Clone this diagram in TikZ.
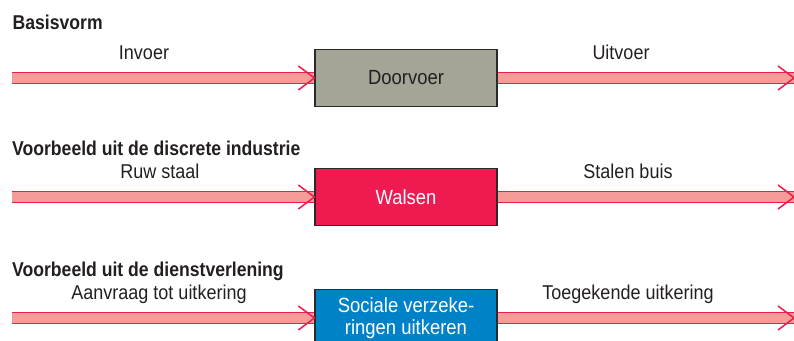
\documentclass[tikz,border=0pt]{standalone}
\usepackage{fontspec}
\setmainfont{Liberation Sans}[FakeStretch=0.9]
\newfontfamily\titlefont{Liberation Sans}[FakeStretch=0.88]
\usepackage{tikz}
\usetikzlibrary{positioning}
\usepackage{xcolor}
\definecolor{bandfill}{HTML}{F59C98}
\definecolor{bandline}{HTML}{EC1C4F}
\definecolor{boxline}{HTML}{2B2A29}
\definecolor{doorvoergrey}{HTML}{A5A597}
\definecolor{walsenred}{HTML}{EE1A50}
\definecolor{sociaalblue}{HTML}{0082C8}
\definecolor{textgrey}{HTML}{231F20}
\newcommand{\flowarrow}[2]{%
    \draw[band] (#1) -- (#2);
    \draw[bandtip] ([shift={(-16pt,12pt)}]#2) -- (#2) -- ([shift={(-16pt,-12pt)}]#2);
}

\begin{document}
\begin{tikzpicture}[x=1pt, y=1pt]
    \tikzstyle{proces} = [draw=boxline, line width=1.2pt, minimum width=182pt, minimum height=57pt, inner sep=0pt, text=textgrey, font=\fontsize{20.5}{22}\selectfont, align=center]
    \tikzstyle{band} = [draw=bandline, double=bandfill, line width=1.3pt, double distance=9.5pt]
    \tikzstyle{bandtip} = [draw=bandline, line width=1.5pt, line join=miter]
    \tikzstyle{flowtext} = [font=\fontsize{20}{22}\selectfont, text=textgrey, anchor=base, inner sep=0pt]
    \tikzstyle{rowtitle} = [font=\titlefont\bfseries\fontsize{20}{22}\selectfont, text=textgrey, anchor=base west, inner sep=0pt]
    \useasboundingbox (0,0) rectangle (794,340);
    % basisvorm
    \node [rowtitle] at (12.5,310) (titel1) {Basisvorm};
    \node [proces, fill=doorvoergrey] at (406,262) (doorvoer) {Doorvoer};
    \coordinate (in1) at (12,262);
    \coordinate (uit1) at (794,262);
    \flowarrow{in1}{doorvoer.west}
    \flowarrow{doorvoer.east}{uit1}
    \node [flowtext] at (144,280) (invoer) {Invoer};
    \node [flowtext] at (621,280) (uitvoer) {Uitvoer};
    % discrete industrie
    \node [rowtitle] at (12,184) (titel2) {Voorbeeld uit de discrete industrie};
    \node [proces, fill=walsenred, text=white] at (406,143) (walsen) {Walsen};
    \coordinate (in2) at (12,143);
    \coordinate (uit2) at (794,143);
    \flowarrow{in2}{walsen.west}
    \flowarrow{walsen.east}{uit2}
    \node [flowtext] at (160,161) (staal) {Ruw staal};
    \node [flowtext] at (628,161) (buis) {Stalen buis};
    % dienstverlening
    \node [rowtitle] at (12,63.5) (titel3) {Voorbeeld uit de dienstverlening};
    \node [proces, fill=sociaalblue, text=white] at (406,22) (sociaal) {Sociale verzeke-\\ringen uitkeren};
    \coordinate (in3) at (12,22);
    \coordinate (uit3) at (794,22);
    \flowarrow{in3}{sociaal.west}
    \flowarrow{sociaal.east}{uit3}
    \node [flowtext] at (159,41) (aanvraag) {Aanvraag tot uitkering};
    \node [flowtext] at (628,41) (toegekend) {Toegekende uitkering};
\end{tikzpicture}
\end{document}
